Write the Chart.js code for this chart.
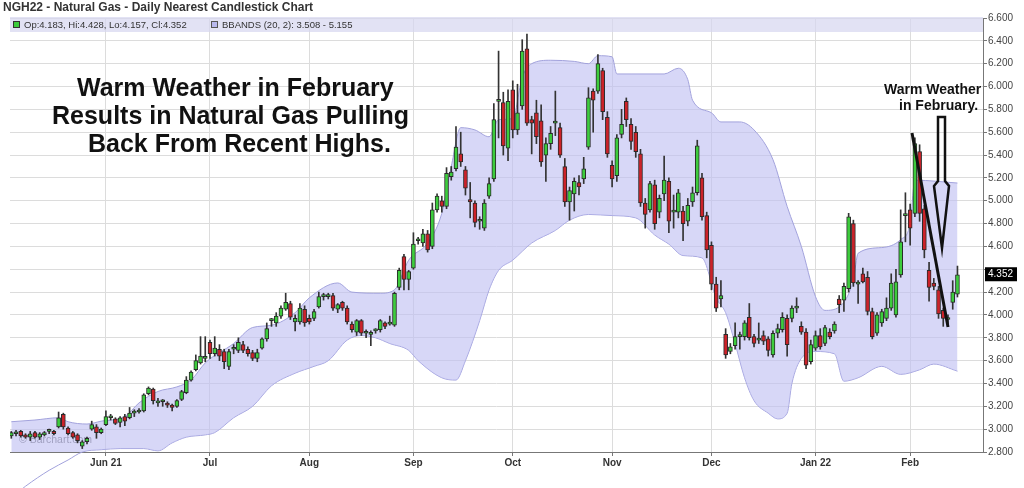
<!DOCTYPE html>
<html>
<head>
<meta charset="utf-8">
<script src="https://cdn.jsdelivr.net/npm/chart.js@4.4.1/dist/chart.umd.min.js"></script>
<style>
  html, body { margin: 0; padding: 0; background: #fff; }
  #wrap { width: 1024px; height: 488px; position: relative; }
</style>
</head>
<body>
<div id="wrap"><canvas id="chart" width="1024" height="488"></canvas></div>
<script>
'use strict';

/* ---- Data (NGH22 daily, May 3 2021 .. Feb 15 2022, index = trading day) ---- */
const OPEN = [
  2.94,2.96,2.98,2.95,2.93,2.97,2.93,2.95,2.98,2.98, 3.02,3.13,3.01,2.97,2.95,2.85,2.89,3.00,3.02,2.97,
  3.04,3.10,3.09,3.06,3.11,3.10,3.14,3.15,3.16,3.31, 3.35,3.23,3.24,3.22,3.21,3.20,3.26,3.32,3.43,3.52,
  3.58,3.62,3.76,3.66,3.70,3.68,3.55,3.70,3.69,3.74, 3.70,3.67,3.62,3.71,3.79,3.95,3.93,3.99,4.05,4.10,
  3.94,3.94,4.05,3.97,3.97,4.07,4.16,4.16,4.17,4.05, 4.11,4.06,3.92,3.85,3.95,3.84,3.83,3.86,3.87,3.93,
  3.92,3.91,4.24,4.51,4.31,4.41,4.65,4.63,4.71,4.60, 4.92,5.00,4.95,5.21,5.28,5.41,5.27,5.01,4.98,4.82,
  4.76,5.04,5.19,5.87,5.86,5.46,5.97,5.62,5.83,6.33, 5.71,5.77,5.70,5.40,5.50,5.68,5.64,5.30,4.99,5.06,
  5.16,5.19,5.47,5.96,5.96,6.14,5.73,5.31,5.22,5.58, 5.87,5.67,5.60,5.41,4.98,4.92,5.14,4.90,5.06,5.17,
  4.90,4.90,4.91,4.82,4.99,5.07,5.20,4.87,4.61,4.27, 4.14,3.83,3.68,3.73,3.81,3.81,3.98,3.81,3.78,3.82,
  3.79,3.65,3.84,3.87,3.97,3.97,4.06,3.90,3.85,3.59, 3.71,3.82,3.75,3.85,3.86,4.14,4.13,4.23,4.80,4.27,
  4.36,4.33,4.03,3.84,3.93,3.97,4.06,4.00,4.35,4.87, 4.92,4.89,5.43,4.93,4.39,4.28,4.22,4.04,3.96,4.11,
  4.183
];
const HIGH = [
  2.98,2.99,2.99,2.96,2.98,2.98,2.97,2.98,3.00,2.99, 3.15,3.14,3.02,2.98,2.96,2.90,2.93,3.07,3.04,3.01,
  3.16,3.13,3.10,3.11,3.13,3.19,3.17,3.18,3.31,3.37, 3.36,3.27,3.26,3.24,3.22,3.26,3.34,3.46,3.51,3.65,
  3.81,3.81,3.78,3.81,3.74,3.70,3.70,3.74,3.80,3.77, 3.72,3.69,3.70,3.80,3.93,3.97,4.02,4.08,4.19,4.12,
  4.00,4.10,4.08,4.00,4.05,4.20,4.19,4.19,4.19,4.10, 4.12,4.08,3.94,3.96,3.96,3.87,3.86,3.88,3.96,3.94,
  3.99,4.20,4.41,4.53,4.39,4.72,4.68,4.75,4.74,4.98, 5.06,5.04,5.29,5.30,5.65,5.60,5.30,5.16,5.00,4.86,
  5.01,5.20,5.85,6.31,5.95,5.97,6.05,6.02,6.41,6.46, 5.74,5.88,5.84,5.55,5.65,5.96,5.68,5.37,5.12,5.20,
  5.22,5.38,5.99,5.98,6.28,6.16,5.78,5.35,5.58,5.80, 5.90,5.72,5.65,5.45,5.02,5.17,5.18,5.05,5.39,5.20,
  5.05,5.10,4.95,5.02,5.12,5.53,5.24,4.90,4.64,4.33, 4.30,3.88,3.75,3.93,3.85,3.95,4.10,3.83,3.93,3.86,
  3.81,3.86,3.92,4.02,4.00,4.08,4.15,3.94,3.88,3.78, 3.86,3.88,3.91,3.88,3.94,4.17,4.28,4.89,4.83,4.30,
  4.41,4.38,4.06,4.02,4.05,4.15,4.36,4.40,4.92,5.07, 4.97,5.55,5.49,4.96,4.46,4.32,4.25,4.06,4.00,4.30,
  4.428
];
const LOW = [
  2.92,2.94,2.93,2.92,2.90,2.92,2.91,2.94,2.96,2.95, 3.01,3.00,2.95,2.92,2.88,2.83,2.87,2.99,2.92,2.96,
  3.03,3.08,3.04,3.02,3.03,3.09,3.11,3.14,3.15,3.30, 3.22,3.20,3.20,3.19,3.16,3.19,3.25,3.31,3.42,3.51,
  3.57,3.59,3.62,3.64,3.60,3.53,3.52,3.66,3.67,3.67, 3.64,3.60,3.59,3.70,3.77,3.90,3.90,3.97,4.04,3.96,
  3.86,3.92,3.90,3.92,3.95,4.06,4.13,4.14,4.04,4.02, 4.04,3.92,3.85,3.82,3.82,3.80,3.73,3.84,3.85,3.88,
  3.91,3.90,4.22,4.22,4.22,4.40,4.62,4.60,4.55,4.58, 4.90,4.90,4.93,5.18,5.26,5.30,5.05,4.85,4.77,4.75,
  4.74,5.02,5.17,5.55,5.40,5.35,5.55,5.58,5.80,5.66, 5.41,5.50,5.30,5.17,5.45,5.57,5.38,4.95,4.83,4.91,
  5.05,5.15,5.45,5.60,5.94,5.71,5.38,5.12,5.17,5.55, 5.65,5.45,5.38,4.95,4.76,4.90,4.75,4.85,5.00,4.72,
  4.76,4.85,4.65,4.78,4.95,5.05,4.83,4.50,4.22,4.03, 4.07,3.62,3.66,3.70,3.70,3.78,3.78,3.72,3.75,3.74,
  3.64,3.63,3.80,3.85,3.64,3.94,4.02,3.83,3.53,3.57, 3.69,3.70,3.73,3.79,3.84,4.02,4.03,4.20,4.25,4.10,
  4.28,4.00,3.79,3.82,3.90,3.95,4.04,3.98,4.33,4.64, 4.61,4.86,4.82,4.50,4.12,4.22,3.97,3.90,3.90,4.05,
  4.157
];
const CLOSE = [
  2.97,2.96,2.94,2.93,2.96,2.93,2.96,2.97,2.98,2.96, 3.10,3.02,2.96,2.93,2.90,2.89,2.92,3.04,2.97,3.00,
  3.11,3.10,3.05,3.10,3.07,3.14,3.14,3.16,3.30,3.36, 3.25,3.24,3.24,3.21,3.19,3.25,3.33,3.43,3.50,3.60,
  3.64,3.62,3.66,3.71,3.64,3.59,3.68,3.70,3.76,3.69, 3.66,3.62,3.67,3.79,3.88,3.95,3.99,4.06,4.11,3.98,
  3.97,4.06,3.93,3.94,4.03,4.16,4.16,4.16,4.06,4.09, 4.06,3.94,3.87,3.95,3.84,3.845,3.83,3.87,3.95,3.90,
  3.92,4.19,4.39,4.31,4.38,4.62,4.65,4.71,4.57,4.92, 5.04,4.95,5.24,5.25,5.47,5.34,5.11,4.99,4.81,4.82,
  4.98,5.15,5.71,5.88,5.48,5.87,5.62,5.77,6.31,5.68, 5.68,5.56,5.34,5.50,5.59,5.68,5.40,4.99,5.09,5.17,
  5.12,5.28,5.90,5.88,6.20,5.78,5.41,5.19,5.55,5.67, 5.71,5.52,5.43,4.98,4.88,5.15,4.80,5.02,5.18,4.82,
  4.90,5.07,4.80,4.96,5.07,5.48,4.86,4.57,4.27,4.06, 4.17,3.65,3.72,3.81,3.81,3.93,3.80,3.75,3.78,3.77,
  3.69,3.84,3.88,3.98,3.74,4.06,4.06,3.85,3.56,3.74, 3.82,3.72,3.89,3.81,3.92,4.09,4.25,4.86,4.28,4.27,
  4.29,4.03,3.81,4.00,4.03,4.06,4.28,4.29,4.64,4.88, 4.76,5.50,4.89,4.57,4.24,4.25,4.01,3.97,3.96,4.20,
  4.352
];

/* Bollinger band (20, 2) at sample days */
const UPPER_IDX = [0,5,10,12,16,19,24,27,31,35,38,41,47,51,55,60,63,69,72,78,81,84,88,91,93,95,98,101,103,106,
  108,110,114,119,122,124,127,128,131,138,141,143,144,148,150,154,157,161,164,167,170,172,175,178,179,184,188,190,191,200];
const UPPER_VAL = [3.065,3.08,3.10,3.065,3.045,3.07,3.11,3.23,3.33,3.37,3.43,3.58,3.75,3.89,3.91,4.02,4.15,4.28,4.20,4.19,
  4.22,4.48,4.63,4.89,5.30,5.64,5.62,5.56,5.71,5.72,6.08,6.20,6.23,6.22,6.20,6.27,6.26,6.11,6.11,6.11,
  6.16,6.06,5.88,5.77,5.69,5.69,5.62,5.36,4.95,4.60,4.16,4.04,4.07,4.31,4.54,4.59,4.66,4.80,5.18,5.155];
const LOWER_IDX = [0,3,8,12,15,19,23,28,31,34,37,41,43,47,51,55,60,64,67,71,74,77,80,84,86,91,94,96,99,101,
  103,106,110,115,118,122,127,132,136,139,142,146,149,151,153,155,157,160,162,164,165,167,170,174,176,179,184,188,192,195,200];
const LOWER_VAL = [2.40,2.50,2.64,2.73,2.80,2.82,2.83,2.83,2.81,2.88,2.93,2.95,2.97,3.10,3.20,3.38,3.49,3.55,3.60,3.78,
  3.82,3.80,3.75,3.69,3.60,3.45,3.43,3.60,3.95,4.22,4.39,4.48,4.63,4.74,4.83,4.88,4.87,4.85,4.70,4.62,
  4.52,4.50,4.15,4.02,3.75,3.45,3.25,3.14,3.09,3.14,3.40,3.62,3.68,3.66,3.42,3.45,3.55,3.48,3.52,3.57,3.508];

/* Month tick marks (index of first trading day) */
const MONTH_IDX    = [20, 42, 63, 85, 106, 127, 148, 170, 190];
const MONTH_LABELS = ['Jun 21', 'Jul', 'Aug', 'Sep', 'Oct', 'Nov', 'Dec', 'Jan 22', 'Feb'];

const TITLE = 'NGH22 - Natural Gas - Daily Nearest Candlestick Chart';
const NOTE_LINES = ['Warm Weather in February', 'Results in Natural Gas Pulling', 'Back From Recent Highs.'];
const SIDE_NOTE = ['Warm Weather', 'in February.'];

/* ---- Style ---- */
const FONT = "'Liberation Sans', Arial, sans-serif";
const COLORS = {
  up: '#3dcc3d',
  down: '#cc2229',
  edge: '#2a2a2a',
  wick: '#333',
  band: 'rgba(190,190,242,0.62)',
  bandEdge: '#a2a2dc',
  grid: '#dcdcdc',
  axis: '#777',
  text: '#333'
};

const bodies = OPEN.map((o, i) => ({ x: i, y: [Math.min(o, CLOSE[i]), Math.max(o, CLOSE[i])] }));
const wicks = LOW.map((l, i) => ({ x: i, y: [l, HIGH[i]] }));
const upper = UPPER_IDX.map((x, k) => ({ x, y: UPPER_VAL[k] }));
const lower = LOWER_IDX.map((x, k) => ({ x, y: LOWER_VAL[k] }));
const bodyColors = OPEN.map((o, i) => CLOSE[i] >= o ? COLORS.up : COLORS.down);

const last = OPEN.length - 1;

const overlay = {
  id: 'overlay',
  beforeDatasetsDraw(chart) {
    const ctx = chart.ctx;
    ctx.save();
    ctx.font = '10.5px ' + FONT;
    ctx.fillStyle = 'rgba(70,70,70,0.8)';
    ctx.textBaseline = 'alphabetic';
    ctx.fillText('\u00A9 Barchart.com', 19, 443);
    ctx.restore();
  },
  afterDatasetsDraw(chart) {
    const ctx = chart.ctx;
    ctx.save();
    // big note
    ctx.fillStyle = '#111';
    ctx.font = 'bold 25px ' + FONT;
    ctx.textBaseline = 'alphabetic';
    ctx.fillText(NOTE_LINES[0], 77, 96);
    ctx.fillText(NOTE_LINES[1], 52, 124);
    ctx.fillText(NOTE_LINES[2], 88, 152);
    // side note
    ctx.font = 'bold 14px ' + FONT;
    ctx.fillText(SIDE_NOTE[0], 884, 94);
    ctx.fillText(SIDE_NOTE[1], 899, 110);
    // trend line
    ctx.strokeStyle = '#111';
    ctx.lineWidth = 3;
    ctx.beginPath();
    ctx.moveTo(912, 133);
    ctx.lineTo(948, 327);
    ctx.stroke();
    // hollow arrow
    ctx.lineWidth = 2.5;
    ctx.lineJoin = 'miter';
    ctx.beginPath();
    ctx.moveTo(938, 117);
    ctx.lineTo(945, 117);
    ctx.lineTo(945, 181);
    ctx.lineTo(949, 186);
    ctx.lineTo(942, 248);
    ctx.lineTo(934, 186);
    ctx.lineTo(938, 181);
    ctx.closePath();
    ctx.stroke();
    ctx.restore();
  },
  afterDraw(chart) {
    const ctx = chart.ctx;
    const area = chart.chartArea;
    const y = chart.scales.y;
    ctx.save();
    // title
    ctx.fillStyle = COLORS.text;
    ctx.font = 'bold 12px ' + FONT;
    ctx.textBaseline = 'middle';
    ctx.fillText(TITLE, 3, 8);
    // legend strip
    ctx.fillStyle = 'rgba(214,214,240,0.7)';
    ctx.fillRect(area.left, 17, area.right - area.left, 15);
    ctx.font = '9.5px ' + FONT;
    ctx.fillStyle = COLORS.up;
    ctx.fillRect(13, 21, 6, 6);
    ctx.strokeStyle = '#333';
    ctx.lineWidth = 1;
    ctx.strokeRect(13.5, 21.5, 6, 6);
    ctx.fillStyle = COLORS.text;
    ctx.fillText('Op:' + OPEN[last].toFixed(3) + ', Hi:' + HIGH[last].toFixed(3) +
      ', Lo:' + LOW[last].toFixed(3) + ', Cl:' + CLOSE[last].toFixed(3), 24, 25);
    ctx.fillStyle = '#b8b8ee';
    ctx.fillRect(211, 21, 6, 6);
    ctx.strokeStyle = '#555';
    ctx.strokeRect(211.5, 21.5, 6, 6);
    ctx.fillStyle = COLORS.text;
    ctx.fillText('BBANDS (20, 2): ' + LOWER_VAL[LOWER_VAL.length - 1].toFixed(3) + ' - ' +
      UPPER_VAL[UPPER_VAL.length - 1].toFixed(3), 222, 25);
    // last price box
    const py = y.getPixelForValue(CLOSE[last]);
    ctx.font = '10px ' + FONT;
    ctx.fillStyle = '#000';
    ctx.fillRect(985, py - 7.5, 32, 14);
    ctx.fillStyle = '#fff';
    ctx.fillText(CLOSE[last].toFixed(3), 988, py);
    ctx.restore();
  }
};

new Chart(document.getElementById('chart'), {
  type: 'bar',
  data: {
    datasets: [
      {
        type: 'line', label: 'upper', data: upper, order: 3,
        borderColor: COLORS.bandEdge, borderWidth: 1, pointRadius: 0,
        cubicInterpolationMode: 'monotone',
        backgroundColor: COLORS.band, fill: '+1'
      },
      {
        type: 'line', label: 'lower', data: lower, order: 3, clip: false,
        borderColor: COLORS.bandEdge, borderWidth: 1, pointRadius: 0,
        cubicInterpolationMode: 'monotone', fill: false
      },
      {
        label: 'wick', data: wicks, order: 2, grouped: false,
        backgroundColor: COLORS.wick, barThickness: 1, borderWidth: 0
      },
      {
        label: 'body', data: bodies, order: 1, grouped: false,
        backgroundColor: bodyColors, borderColor: COLORS.edge, borderWidth: 1,
        borderSkipped: false, barThickness: 4, minBarLength: 2
      }
    ]
  },
  options: {
    responsive: false,
    animation: false,
    devicePixelRatio: 1,
    layout: { padding: { left: 10, top: 18, right: 0, bottom: 0 } },
    plugins: { legend: { display: false }, tooltip: { enabled: false } },
    scales: {
      x: {
        type: 'linear', min: -0.275, max: 205.4, offset: false,
        afterBuildTicks: s => { s.ticks = MONTH_IDX.map(v => ({ value: v })); },
        afterFit: s => { s.height = 36; },
        ticks: {
          autoSkip: false, maxRotation: 0, padding: 1, color: COLORS.text,
          font: { family: FONT, size: 10, weight: 'bold' },
          callback: v => MONTH_LABELS[MONTH_IDX.indexOf(v)]
        },
        grid: { color: COLORS.grid, tickLength: 4, tickColor: COLORS.axis, offset: false },
        border: { color: COLORS.axis }
      },
      y: {
        position: 'right', min: 2.8, max: 6.6,
        afterFit: s => { s.width = 41; },
        ticks: {
          stepSize: 0.2, padding: 1, color: '#444',
          font: { family: FONT, size: 10 },
          // the last-price box sits over the nearest label
          callback: v => Math.abs(v - CLOSE[CLOSE.length - 1]) < 0.07 ? '' : Number(v).toFixed(3)
        },
        grid: { color: COLORS.grid, tickLength: 4, tickColor: COLORS.axis },
        border: { color: COLORS.axis }
      }
    }
  },
  plugins: [overlay]
});
</script>
</body>
</html>
